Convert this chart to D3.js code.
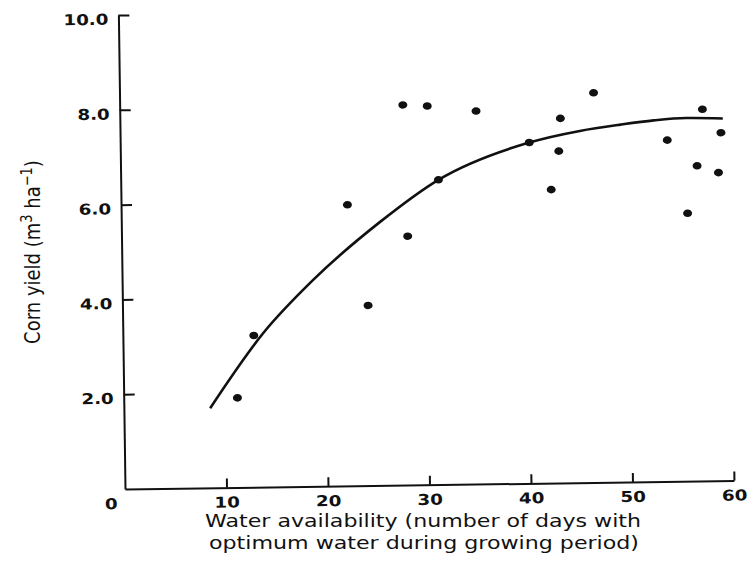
<!DOCTYPE html>
<html>
<head>
<meta charset="utf-8">
<script src="https://cdn.jsdelivr.net/npm/d3@7"></script>
<style>
    body { margin: 0; background: #fff; }
    svg { display: block; }
</style>
</head>
<body>
<div id="graph"></div>
<script>
// observed points (days, yield)
const obsDays  = [11.2, 12.9, 22.3, 24.2, 27.9, 28.2, 30.3, 31.3, 35.1, 40.3,
                  42.4, 43.2, 43.4, 46.7, 53.9, 55.8, 56.8, 57.4, 58.9, 59.2];
const obsYield = [1.89, 3.20, 5.93, 3.80, 8.02, 5.25, 7.99, 6.43, 7.87, 7.19,
                  6.19, 7.00, 7.69, 8.22, 7.20, 5.65, 6.65, 7.84, 6.50, 7.34];

// fitted curve
const fitDays  = [8.5, 13.8, 18.8, 25.5, 31.3, 40.3, 45.3, 49.3, 52.6, 55.8, 59.4];
const fitYield = [1.68, 3.24, 4.35, 5.56, 6.43, 7.19, 7.42, 7.54, 7.62, 7.66, 7.64];

const xTicks = [10, 20, 30, 40, 50, 60];
const yTicks = [2, 4, 6, 8, 10];

const width = 754;
const height = 562;
const originX = 125;
const originY = 489;
const plotWidth = 609;
const plotHeight = 474;
const tilt = -0.8;      // the scan is a little rotated
const stretch = 1.22;   // and stretched sideways

const xScale = d3.scaleLinear().domain([0, 60]).range([0, plotWidth]);
const yScale = d3.scaleLinear().domain([0, 10]).range([0, -plotHeight]);

let svg = d3.select('#graph')
    .append('svg')
    .attr('width', width)
    .attr('height', height)
    .style('background', '#fff');

let graph = svg.append('g')
    .attr('transform', `translate(${originX},${originY}) rotate(${tilt})`);

// x axis, ticks pointing up
let xAxis = graph.append('g')
    .call(d3.axisBottom(xScale).tickValues(xTicks).tickSizeInner(-9).tickSizeOuter(0).tickFormat(d3.format('d')));

// y axis, ticks pointing right
let yAxis = graph.append('g')
    .call(d3.axisLeft(yScale).tickValues(yTicks).tickSizeInner(-11).tickSizeOuter(0).tickFormat(d3.format('.1f')));

graph.selectAll('.domain, .tick line')
    .attr('stroke', '#111')
    .attr('stroke-width', 2);

graph.selectAll('.tick text')
    .attr('fill', '#111')
    .style('font-family', 'DejaVu Sans')
    .style('font-weight', 'bold')
    .style('font-size', '15px');

xAxis.selectAll('.tick text')
    .attr('y', null).attr('dy', null)
    .attr('transform', `translate(0,20) scale(${stretch},1)`);

yAxis.selectAll('.tick text')
    .attr('x', null).attr('dy', null)
    .attr('transform', `translate(-10,9) scale(${stretch},1)`);

// the lone 0 at the corner
graph.append('text')
    .attr('text-anchor', 'middle')
    .attr('transform', `translate(-14,20) scale(${stretch},1)`)
    .attr('fill', '#111')
    .style('font-family', 'DejaVu Sans')
    .style('font-weight', 'bold')
    .style('font-size', '15px')
    .text('0');

// curve
const line = d3.line()
    .x((d) => xScale(d[0]))
    .y((d) => yScale(d[1]))
    .curve(d3.curveMonotoneX);

graph.append('path')
    .datum(fitDays.map((d, i) => [d, fitYield[i]]))
    .attr('d', line)
    .attr('fill', 'none')
    .attr('stroke', '#111')
    .attr('stroke-width', 2.6);

// points
graph.selectAll('ellipse')
    .data(obsDays.map((d, i) => [d, obsYield[i]]))
    .enter()
    .append('ellipse')
    .attr('cx', (d) => xScale(d[0]))
    .attr('cy', (d) => yScale(d[1]))
    .attr('rx', 4.5)
    .attr('ry', 3.8)
    .attr('fill', '#111');

// axis titles
const titleFont = 'DejaVu Sans';

svg.append('text')
    .attr('x', 205).attr('y', 527)
    .attr('textLength', 436).attr('lengthAdjust', 'spacingAndGlyphs')
    .attr('fill', '#111')
    .style('font-family', titleFont)
    .style('font-size', '17px')
    .text('Water availability (number of days with');

svg.append('text')
    .attr('x', 209).attr('y', 549)
    .attr('textLength', 430).attr('lengthAdjust', 'spacingAndGlyphs')
    .attr('fill', '#111')
    .style('font-family', titleFont)
    .style('font-size', '17px')
    .text('optimum water during growing period)');

let yTitle = svg.append('text')
    .attr('transform', `translate(40,252) scale(1.2,1) rotate(-90)`)
    .attr('text-anchor', 'middle')
    .attr('fill', '#111')
    .style('font-family', titleFont)
    .style('font-size', '18px');

yTitle.append('tspan').text('Corn yield (m');
yTitle.append('tspan').attr('dy', -7).style('font-size', '13px').text('3');
yTitle.append('tspan').attr('dy', 7).text(' ha');
yTitle.append('tspan').attr('dy', -7).style('font-size', '13px').text('\u22121');
yTitle.append('tspan').attr('dy', 7).text(')');
</script>
</body>
</html>
